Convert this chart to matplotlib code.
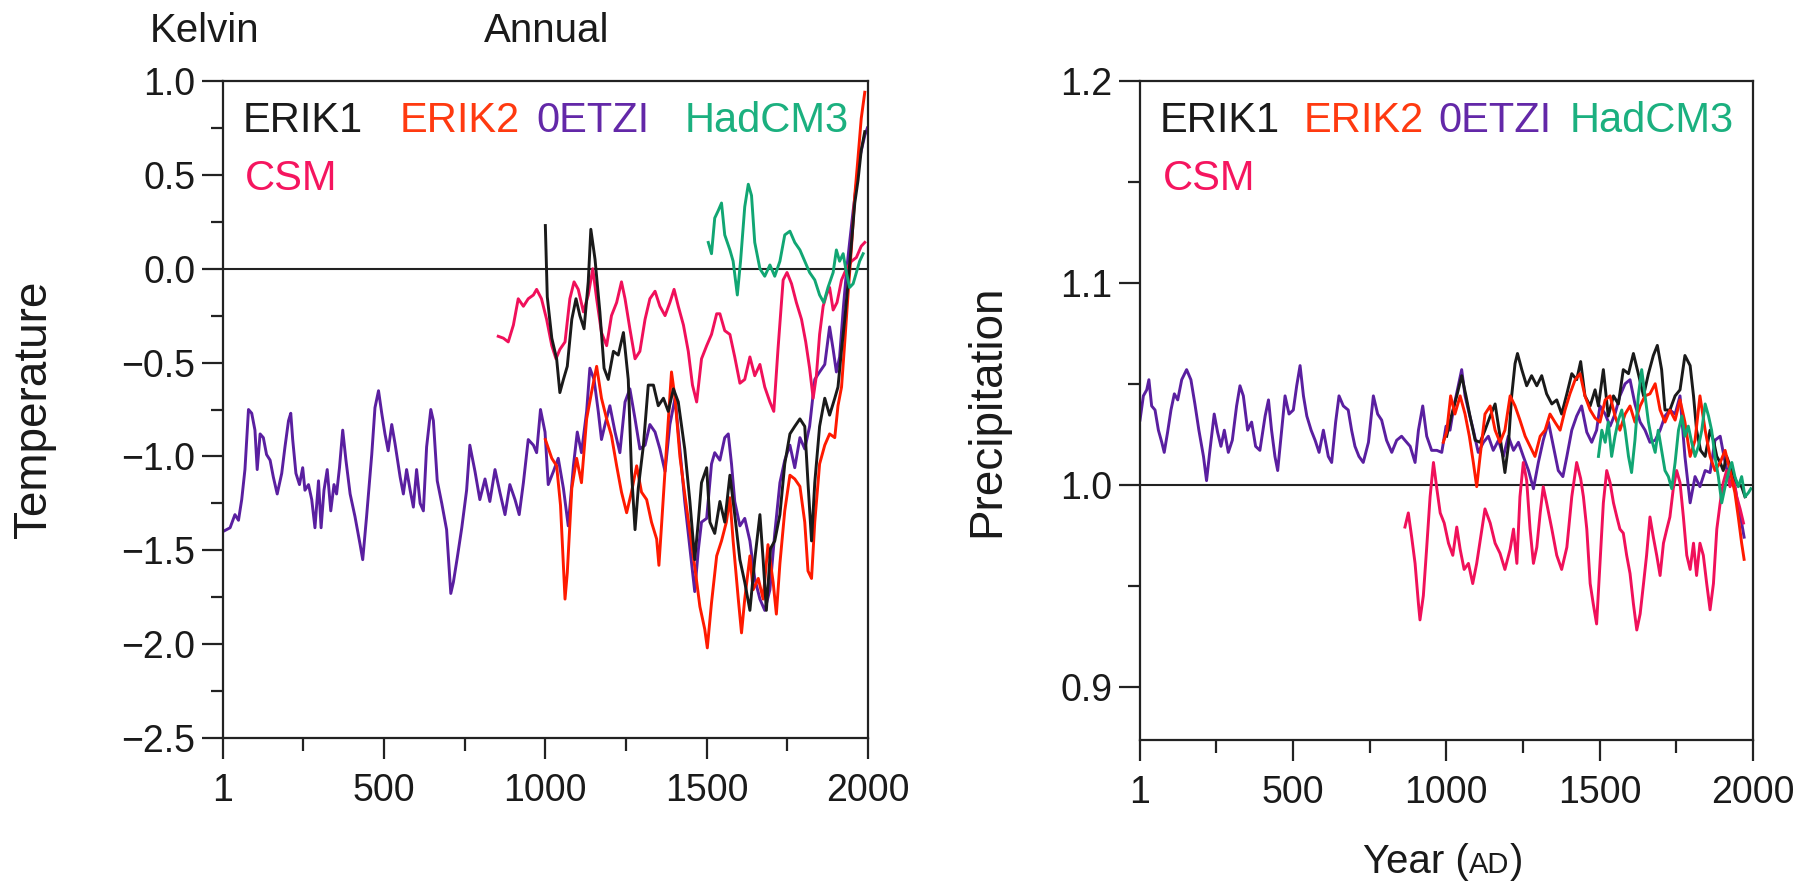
import numpy as np
import matplotlib
matplotlib.use("Agg")
import matplotlib.pyplot as plt
from matplotlib.ticker import FixedLocator

plt.rcParams['font.family'] = ['Liberation Sans', 'DejaVu Sans']

# ---------------- Temperature (K) ----------------
oetzi_t_years = [1, 23, 38, 49, 59, 69, 80, 90, 100, 107, 116, 126, 136, 147, 157, 169, 183, 193, 204, 211,
                 217, 227, 238, 248, 255, 266, 276, 286, 297, 305, 314, 324, 335, 345, 353, 362, 372, 382, 395,
                 410, 426, 434, 446, 462, 472, 483, 493, 503, 513, 524, 534, 550, 560, 570, 581, 591, 601, 612,
                 622, 632, 645, 653, 665, 679, 694, 707, 715, 727, 741, 756,
                 766, 782, 797, 813, 828, 844, 859, 875, 890, 906, 919, 932, 947, 963, 973, 985, 999, 1009, 1025,
                 1040, 1056, 1071, 1087, 1099, 1112, 1128, 1138, 1151, 1164, 1174, 1185, 1200, 1216, 1231, 1247,
                 1262, 1278, 1293, 1309, 1324, 1340, 1355, 1371, 1386, 1402,
                 1417, 1432, 1448, 1463, 1474, 1484, 1500, 1515, 1525, 1541, 1556, 1567, 1577, 1587, 1603, 1618,
                 1634, 1649, 1665, 1680, 1696, 1711, 1727, 1742, 1758, 1773, 1789, 1804, 1819, 1835, 1850, 1866,
                 1881, 1892, 1902, 1912, 1923, 1933, 1943, 1954, 1964, 1974, 1990, 1998]
oetzi_t = [-1.40, -1.38, -1.31, -1.34, -1.23, -1.07, -0.75, -0.77, -0.86, -1.07, -0.88, -0.90, -0.99, -1.02,
           -1.11, -1.20, -1.09, -0.95, -0.81, -0.77, -0.91, -1.09, -1.15, -1.06, -1.18, -1.15, -1.23, -1.38,
           -1.13, -1.38, -1.18, -1.07, -1.29, -1.15, -1.20, -1.06, -0.86, -1.02, -1.20, -1.32, -1.47, -1.55,
           -1.32, -0.99, -0.74, -0.65, -0.77, -0.88, -0.97, -0.83, -0.93, -1.11, -1.20, -1.07, -1.18, -1.27,
           -1.07, -1.25, -1.29, -0.95, -0.75, -0.81, -1.13, -1.25, -1.39, -1.73, -1.67, -1.54, -1.38, -1.18,
           -0.94, -1.08, -1.23, -1.12, -1.24, -1.07, -1.19, -1.31, -1.15, -1.23, -1.31, -1.14, -0.91, -0.94,
           -0.98, -0.75, -0.87, -1.15, -1.08, -1.01, -1.17, -1.37, -1.05, -0.87, -0.98, -0.76, -0.53, -0.59,
           -0.76, -0.91, -0.83, -0.73, -0.87, -0.98, -0.71, -0.64, -0.80, -0.96, -0.94, -0.83, -0.87, -0.96,
           -1.08, -0.83, -0.69,
           -0.96, -1.24, -1.49, -1.72, -1.50, -1.35, -1.33, -1.04, -0.98, -1.02, -0.90, -0.88, -1.04, -1.24,
           -1.37, -1.33, -1.45, -1.65, -1.76, -1.82, -1.71, -1.41, -1.14, -1.02, -0.94, -1.06, -0.90, -0.96,
           -0.84, -0.59, -0.55, -0.51, -0.31, -0.43, -0.55, -0.47, -0.22, -0.02, 0.14, 0.31, 0.45, 0.59, 0.71,
           0.75]

erik1_t_years = [1000, 1006, 1020, 1035, 1045, 1056, 1068, 1082, 1095, 1107, 1120, 1133, 1141, 1154, 1169, 1182,
                 1195, 1211, 1226, 1242, 1257, 1267, 1278, 1288, 1304, 1319, 1335, 1350, 1366, 1381, 1397, 1412,
                 1432, 1448, 1463, 1474, 1484, 1500, 1510, 1525, 1541, 1556, 1572, 1587, 1603, 1618, 1634, 1649,
                 1665, 1675, 1685, 1698, 1711, 1727, 1742, 1758, 1773, 1789, 1804, 1814, 1825, 1835, 1850, 1866,
                 1881, 1897, 1907, 1918, 1928, 1938, 1949, 1959, 1969, 1979, 1990]
erik1_t = [0.23, -0.15, -0.37, -0.48, -0.66, -0.59, -0.52, -0.27, -0.16, -0.25, -0.32, -0.07, 0.21, 0.05,
           -0.23, -0.53, -0.59, -0.44, -0.46, -0.34, -0.59, -1.08, -1.39, -1.17, -0.94, -0.62, -0.62, -0.73,
           -0.69, -0.76, -0.64, -0.71, -0.96, -1.24, -1.55, -1.35, -1.14, -1.06, -1.35, -1.41, -1.24, -1.35,
           -1.10, -1.31, -1.55, -1.67, -1.82, -1.55, -1.31, -1.55, -1.82, -1.49, -1.45, -1.31, -1.04, -0.88,
           -0.84, -0.80, -0.84, -1.14, -1.45, -1.14, -0.84, -0.69, -0.78, -0.69, -0.63, -0.43, -0.27, -0.08,
           0.14, 0.35, 0.47, 0.63, 0.73]

erik2_t_years = [1000, 1020, 1035, 1047, 1061, 1068, 1082, 1097, 1112, 1128, 1143, 1159, 1174, 1190, 1205, 1221,
                 1236, 1252, 1267, 1283, 1298, 1314, 1329, 1345, 1352, 1360, 1376, 1391, 1402, 1417, 1432, 1448,
                 1464, 1479, 1494, 1502, 1515, 1531, 1546, 1561, 1572, 1582, 1598, 1608, 1618, 1634, 1644, 1660,
                 1675, 1690, 1706, 1716, 1727, 1742, 1758, 1773, 1789, 1804, 1814, 1825, 1835, 1850, 1866, 1881,
                 1897, 1907, 1918, 1928, 1938, 1949, 1959, 1969, 1979, 1990]
erik2_t = [-0.91, -1.01, -1.05, -1.26, -1.76, -1.62, -1.17, -1.01, -1.14, -0.80, -0.66, -0.52, -0.69, -0.80,
           -0.89, -1.05, -1.19, -1.30, -1.19, -1.05, -1.19, -1.23, -1.35, -1.44, -1.58, -1.37, -0.94, -0.55,
           -0.69, -1.00, -1.20, -1.40, -1.60, -1.80, -1.92, -2.02, -1.78, -1.53, -1.45, -1.35, -1.22, -1.45,
           -1.76, -1.94, -1.76, -1.53, -1.71, -1.65, -1.76, -1.47, -1.67, -1.84, -1.57, -1.29, -1.10, -1.12,
           -1.16, -1.35, -1.61, -1.65, -1.35, -1.04, -0.94, -0.88, -0.90, -0.73, -0.63, -0.39, -0.14, 0.12,
           0.39, 0.59, 0.80, 0.94]

csm_t_years = [854, 870, 885, 901, 916, 932, 947, 963, 973, 988, 1004, 1020, 1033, 1045, 1061, 1076, 1089, 1102,
               1118, 1133, 1147, 1159, 1174, 1190, 1205, 1221, 1236, 1247, 1262, 1278, 1293, 1309, 1324, 1340,
               1355, 1371, 1386, 1399, 1412, 1428, 1443, 1456, 1469, 1484, 1500, 1515, 1531, 1541, 1556, 1572,
               1587, 1603, 1618, 1634, 1649, 1665, 1680, 1696, 1708, 1721, 1737, 1749, 1763, 1778, 1794, 1807,
               1819, 1830, 1840, 1850, 1861, 1871, 1881, 1892, 1904, 1918, 1933, 1949, 1964, 1979, 1990]
csm_t = [-0.36, -0.37, -0.39, -0.30, -0.16, -0.20, -0.16, -0.14, -0.11, -0.16, -0.27, -0.41, -0.48, -0.43,
         -0.39, -0.16, -0.07, -0.11, -0.23, -0.14, 0.00, -0.16, -0.34, -0.41, -0.25, -0.18, -0.07, -0.16,
         -0.32, -0.48, -0.44, -0.27, -0.16, -0.12, -0.20, -0.25, -0.18, -0.11, -0.20, -0.30, -0.44, -0.62,
         -0.71, -0.48, -0.41, -0.35, -0.24, -0.24, -0.33, -0.35, -0.47, -0.61, -0.59, -0.47, -0.57, -0.51,
         -0.63, -0.71, -0.76, -0.43, -0.06, -0.02, -0.08, -0.18, -0.27, -0.39, -0.53, -0.69, -0.57, -0.35,
         -0.20, -0.14, -0.10, -0.22, -0.18, -0.06, 0.00, 0.04, 0.06, 0.12, 0.14]

hadcm3_t_years = [1505, 1515, 1525, 1536, 1546, 1556, 1572, 1582, 1595, 1605, 1618, 1629, 1639, 1649, 1665, 1680,
                  1696, 1711, 1727, 1742, 1758, 1773, 1789, 1804, 1819, 1835, 1850, 1863, 1876, 1892, 1902, 1912,
                  1923, 1933, 1943, 1954, 1964, 1974, 1985]
hadcm3_t = [0.14, 0.08, 0.27, 0.31, 0.35, 0.18, 0.10, 0.04, -0.14, 0.04, 0.33, 0.45, 0.39, 0.14, 0.00, -0.04,
            0.02, -0.04, 0.04, 0.18, 0.20, 0.14, 0.10, 0.04, -0.02, -0.06, -0.14, -0.18, -0.10, -0.02, 0.10,
            0.04, 0.08, -0.02, -0.10, -0.08, -0.02, 0.04, 0.08]

# ---------------- Precipitation (relative) ----------------
oetzi_p_years = [1, 12, 23, 30, 39, 50, 61, 72, 80, 91, 102, 113, 124, 137, 153, 167, 180, 193, 208, 218, 229,
                 243, 254, 265, 276, 289, 302, 316, 327, 338, 352, 365, 378, 392, 409, 420, 430, 441, 450, 463,
                 474, 487, 501, 512, 523, 534, 545, 559, 572, 585, 599, 615, 626, 639, 650, 664, 680, 691, 702,
                 715, 729, 746, 762, 776, 789, 805, 822, 838, 854,
                 865, 882, 898, 909, 923, 936, 952, 969, 985, 999, 1012, 1025, 1039, 1050, 1061, 1075, 1088, 1104,
                 1121, 1137, 1153, 1170, 1186, 1202, 1219, 1235, 1251, 1268, 1284, 1300, 1316, 1333, 1349, 1365,
                 1380, 1393, 1409, 1425, 1441, 1458, 1474, 1490,
                 1501, 1518, 1534, 1550, 1566, 1583, 1599, 1615, 1632, 1648, 1664, 1681, 1697, 1713, 1729, 1746,
                 1762, 1778, 1795, 1811, 1827, 1844, 1860, 1876, 1893, 1909, 1925, 1941, 1952, 1963, 1971]
oetzi_p = [1.032, 1.044, 1.047, 1.052, 1.039, 1.037, 1.027, 1.021, 1.016, 1.026, 1.037, 1.045, 1.042, 1.052,
           1.057, 1.052, 1.040, 1.027, 1.014, 1.002, 1.017, 1.035, 1.026, 1.019, 1.027, 1.016, 1.022, 1.039,
           1.049, 1.044, 1.027, 1.031, 1.019, 1.017, 1.034, 1.042, 1.027, 1.014, 1.007, 1.027, 1.044, 1.035,
           1.037, 1.049, 1.059, 1.044, 1.034, 1.027, 1.022, 1.016, 1.027, 1.014, 1.011, 1.031, 1.044, 1.039,
           1.037, 1.027, 1.019, 1.014, 1.011, 1.021, 1.044, 1.035, 1.032, 1.022, 1.016, 1.022, 1.024,
           1.022, 1.019, 1.011, 1.027, 1.039, 1.024, 1.017, 1.017, 1.016, 1.029, 1.027, 1.039, 1.049, 1.057,
           1.044, 1.035, 1.027, 1.016, 1.021, 1.024, 1.017, 1.022, 1.014, 1.024, 1.017, 1.021, 1.014, 1.007,
           0.998, 1.011, 1.022, 1.031, 1.019, 1.007, 1.004, 1.014, 1.027, 1.034, 1.039, 1.026, 1.021, 1.027,
           1.039, 1.035, 1.029, 1.035, 1.044, 1.050, 1.052, 1.040, 1.031, 1.027, 1.021, 1.022, 1.027, 1.034,
           1.037, 1.035, 1.044, 1.014, 0.991, 1.004, 0.999, 1.007, 1.006, 1.022, 1.024, 1.011, 1.001, 0.999,
           0.989, 0.981, 0.974]

erik1_p_years = [1001, 1018, 1034, 1050, 1064, 1077, 1094, 1110, 1126, 1143, 1159, 1175, 1191, 1202, 1213, 1224,
                 1232, 1246, 1262, 1278, 1295, 1311, 1327, 1344, 1360, 1376, 1393, 1409, 1425, 1438, 1452, 1469,
                 1485, 1496, 1512, 1528, 1545, 1561, 1577, 1594, 1610, 1626, 1643, 1659, 1675, 1688, 1702, 1713,
                 1729, 1746, 1762, 1778, 1795, 1806, 1816, 1829, 1844, 1860, 1871, 1882, 1893, 1903, 1914, 1931,
                 1947, 1963, 1974]
erik1_p = [1.024, 1.035, 1.044, 1.054, 1.044, 1.034, 1.022, 1.021, 1.027, 1.034, 1.040, 1.024, 1.006, 1.019,
           1.044, 1.060, 1.065, 1.057, 1.049, 1.054, 1.049, 1.054, 1.045, 1.040, 1.042, 1.035, 1.045, 1.055,
           1.052, 1.061, 1.044, 1.039, 1.047, 1.039, 1.057, 1.034, 1.044, 1.040, 1.057, 1.055, 1.065, 1.055,
           1.044, 1.055, 1.064, 1.069, 1.057, 1.037, 1.037, 1.044, 1.047, 1.064, 1.059, 1.044, 1.027, 1.017,
           1.014, 1.027, 1.022, 1.014, 1.011, 1.007, 1.014, 1.007, 1.001, 0.999, 0.994]

erik2_p_years = [990, 1001, 1014, 1028, 1045, 1061, 1075, 1088, 1099, 1110, 1126, 1143, 1159, 1175, 1191, 1208,
                 1224, 1240, 1257, 1273, 1289, 1306, 1322, 1338, 1354, 1371, 1387, 1403, 1420, 1436, 1452, 1469,
                 1485, 1501, 1518, 1534, 1550, 1566, 1583, 1599, 1615, 1632, 1648, 1664, 1681, 1697, 1713, 1729,
                 1746, 1762, 1778, 1795, 1811, 1827, 1844, 1860, 1876, 1893, 1909, 1925, 1941, 1952, 1963, 1971]
erik2_p = [1.021, 1.026, 1.044, 1.035, 1.044, 1.035, 1.024, 1.011, 0.999, 1.014, 1.035, 1.039, 1.027, 1.021,
           1.027, 1.044, 1.039, 1.032, 1.024, 1.019, 1.014, 1.024, 1.027, 1.035, 1.031, 1.027, 1.037, 1.045,
           1.052, 1.055, 1.044, 1.037, 1.033, 1.031, 1.042, 1.044, 1.034, 1.027, 1.035, 1.039, 1.031, 1.039,
           1.044, 1.045, 1.050, 1.037, 1.031, 1.037, 1.032, 1.042, 1.031, 1.014, 1.022, 1.044, 1.027, 1.014,
           1.007, 1.011, 1.017, 1.007, 0.996, 0.984, 0.971, 0.963]

csm_p_years = [865, 876, 887, 898, 909, 914, 925, 936, 947, 958, 969, 980, 993, 1007, 1021, 1034, 1045, 1058,
               1072, 1086, 1099, 1112, 1126, 1143, 1159, 1175, 1191, 1208, 1219, 1230, 1240, 1251, 1262, 1273,
               1284, 1295, 1306, 1316, 1327, 1344, 1360, 1376, 1393, 1409, 1425, 1438, 1447, 1458, 1469, 1479,
               1490, 1501, 1512, 1523, 1534, 1545, 1556, 1566, 1577, 1588, 1599, 1610, 1621, 1632, 1643, 1653,
               1664, 1675, 1686, 1697, 1708, 1719, 1729, 1740, 1751, 1762, 1773, 1784, 1795, 1806, 1816, 1827,
               1838, 1849, 1860, 1871, 1882, 1893, 1903, 1914, 1925, 1936, 1947, 1958, 1969]
csm_p = [0.979, 0.986, 0.974, 0.961, 0.941, 0.933, 0.945, 0.969, 0.994, 1.011, 0.998, 0.986, 0.981, 0.971,
         0.965, 0.979, 0.968, 0.958, 0.961, 0.951, 0.961, 0.974, 0.988, 0.981, 0.971, 0.966, 0.958, 0.968,
         0.978, 0.961, 0.994, 1.011, 1.002, 0.978, 0.961, 0.969, 0.986, 0.999, 0.991, 0.978, 0.965, 0.958,
         0.969, 0.994, 1.011, 1.003, 0.994, 0.978, 0.951, 0.941, 0.931, 0.961, 0.991, 1.007, 1.001, 0.991,
         0.984, 0.978, 0.976, 0.965, 0.956, 0.941, 0.928, 0.936, 0.951, 0.965, 0.984, 0.974, 0.965, 0.955,
         0.971, 0.978, 0.984, 0.998, 1.007, 1.001, 0.984, 0.965, 0.958, 0.971, 0.955, 0.971, 0.965, 0.951,
         0.938, 0.951, 0.978, 0.991, 1.001, 1.007, 0.999, 1.004, 0.994, 0.988, 0.981]

hadcm3_p_years = [1496, 1507, 1518, 1528, 1539, 1550, 1561, 1572, 1583, 1594, 1604, 1615, 1626, 1637, 1648, 1659,
                  1670, 1681, 1691, 1702, 1713, 1724, 1735, 1746, 1757, 1768, 1778, 1789, 1800, 1811, 1822, 1833,
                  1844, 1855, 1865, 1876, 1887, 1898, 1909, 1920, 1931, 1941, 1952, 1963, 1974, 1985, 1993]
hadcm3_p = [1.014, 1.027, 1.021, 1.031, 1.014, 1.024, 1.032, 1.037, 1.027, 1.014, 1.006, 1.022, 1.044, 1.057,
            1.044, 1.031, 1.022, 1.016, 1.027, 1.017, 1.007, 1.004, 0.998, 1.011, 1.027, 1.034, 1.024, 1.029,
            1.021, 1.014, 1.019, 1.027, 1.040, 1.034, 1.027, 1.014, 1.004, 0.991, 0.999, 1.006, 1.011, 1.004,
            0.999, 1.004, 0.994, 0.996, 0.998]

x_major = [1, 500, 1000, 1500, 2000]
x_minor = [250, 750, 1250, 1750]
t_major = [1.0, 0.5, 0.0, -0.5, -1.0, -1.5, -2.0, -2.5]
t_minor = [0.75, 0.25, -0.25, -0.75, -1.25, -1.75, -2.25]
p_major = [0.9, 1.0, 1.1, 1.2]
p_minor = [0.95, 1.05, 1.15]

names = ['ERIK1', 'ERIK2', '0ETZI', 'HadCM3', 'CSM']
c_erik1 = '#1a1a1a'
c_erik2 = '#ff1a00'
c_oetzi = '#5a1fa0'
c_had = '#11a673'
c_csm = '#f0105a'
text_colors = ['#1a1a1a', '#ff3a10', '#6328a8', '#1bb07f', '#f5155f']

W, H = 1814, 882
fig = plt.figure(figsize=(W / 100, H / 100), dpi=100)
axL = fig.add_axes([223 / W, 1 - 738 / H, 645 / W, 657 / H])
axR = fig.add_axes([1140 / W, 1 - 740 / H, 613 / W, 659 / H])

lw = 2.1
for ax, series, zero in [
    (axL, [(oetzi_t_years, oetzi_t, c_oetzi), (csm_t_years, csm_t, c_csm), (erik2_t_years, erik2_t, c_erik2),
           (erik1_t_years, erik1_t, c_erik1), (hadcm3_t_years, hadcm3_t, c_had)], 0.0),
    (axR, [(oetzi_p_years, oetzi_p, c_oetzi), (csm_p_years, csm_p, c_csm), (erik1_p_years, erik1_p, c_erik1),
           (erik2_p_years, erik2_p, c_erik2), (hadcm3_p_years, hadcm3_p, c_had)], 1.0)]:
    ax.axhline(zero, color='#222222', lw=1.5, zorder=1)
    for xs, ys, c in series:
        ax.plot(xs, ys, color=c, lw=lw, zorder=2, solid_joinstyle='round')
    ax.set_xlim(1, 2000)
    ax.xaxis.set_major_locator(FixedLocator(x_major))
    ax.xaxis.set_minor_locator(FixedLocator(x_minor))
    ax.set_xticklabels([str(v) for v in x_major])
    for s in ax.spines.values():
        s.set_linewidth(1.6)
        s.set_color('#222222')
    ax.tick_params(axis='both', which='both', direction='out', color='#222222', width=1.6,
                   labelsize=27, labelcolor='#1a1a1a')
    ax.tick_params(axis='both', which='major', length=15)
    ax.tick_params(axis='both', which='minor', length=9)
    ax.tick_params(axis='x', which='major', pad=10)
    ax.tick_params(axis='y', which='major', pad=5)

axL.set_ylim(-2.5, 1.0)
axL.yaxis.set_major_locator(FixedLocator(t_major))
axL.yaxis.set_minor_locator(FixedLocator(t_minor))
axL.set_yticklabels(['1.0', '0.5', '0.0', '\u22120.5', '\u22121.0', '\u22121.5', '\u22122.0', '\u22122.5'])
axL.set_ylabel('Temperature', fontsize=33, color='#1a1a1a')
axL.yaxis.set_label_coords(-0.259, 0.5)

axR.set_ylim(0.8735, 1.2)
axR.yaxis.set_major_locator(FixedLocator(p_major))
axR.yaxis.set_minor_locator(FixedLocator(p_minor))
axR.set_yticklabels(['0.9', '1.0', '1.1', '1.2'])
axR.set_ylabel('Precipitation', fontsize=33, color='#1a1a1a')
axR.yaxis.set_label_coords(-0.214, 0.5)

# in-panel legends (coloured names)
leg_left_x = [243, 400, 536, 685, 245]
leg_right_x = [1160, 1304, 1438, 1570, 1163]
leg_y = [132, 132, 132, 132, 190]
for name, col, xl, xr, yb in zip(names, text_colors, leg_left_x, leg_right_x, leg_y):
    fig.text(xl / W, 1 - yb / H, name, color=col, fontsize=30, va='baseline', ha='left')
    fig.text(xr / W, 1 - yb / H, name, color=col, fontsize=30, va='baseline', ha='left')

fig.text(150 / W, 1 - 42 / H, 'Kelvin', fontsize=29, color='#1a1a1a', va='baseline')
fig.text(484 / W, 1 - 42 / H, 'Annual', fontsize=29, color='#1a1a1a', va='baseline')

# x-axis label "Year (AD)" with small-caps AD
fig.canvas.draw()
r = fig.canvas.get_renderer()
base_y = 1 - 873 / H
parts = [('Year (', 29), ('AD', 21), (')', 29)]
texts = []
xcur = 0.0
for s, fs in parts:
    t = fig.text(xcur, base_y, s, fontsize=fs, color='#1a1a1a', va='baseline', ha='left')
    bb = t.get_window_extent(renderer=r)
    texts.append((t, xcur))
    xcur += bb.width / W
total = xcur
x0 = 1443 / W - total / 2
for t, off in texts:
    t.set_x(x0 + off)

fig.savefig('out.png', dpi=100, facecolor='white')
